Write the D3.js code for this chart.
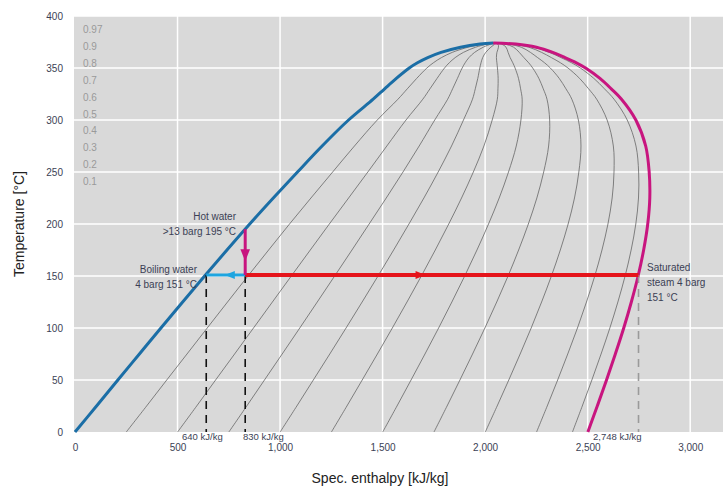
<!DOCTYPE html>
<html>
<head>
<meta charset="utf-8">
<script src="https://cdn.jsdelivr.net/npm/d3@7"></script>
<style>
  body { margin: 0; background: #fff; }
  svg { font-family: "Liberation Sans", Arial, sans-serif; }
</style>
</head>
<body>
<svg id="chart" width="723" height="488"></svg>
<script>
// saturation dome
var tempC   = [0, 25, 50, 75, 100, 125, 150, 175, 200, 225, 250, 275, 300, 320, 330, 340, 350, 355, 360, 365, 370, 373, 374];
var hLiquid = [0, 105, 209, 314, 419, 525, 632, 741, 852, 967, 1085, 1205, 1334, 1454, 1510, 1567, 1630, 1670, 1720, 1785, 1880, 1975, 2040];
var hVapor  = [2501, 2547, 2592, 2635, 2676, 2713, 2746, 2773, 2793, 2803, 2800, 2783, 2735, 2665, 2615, 2560, 2490, 2445, 2390, 2330, 2250, 2150, 2040];
var qualities = [0.1, 0.2, 0.3, 0.4, 0.5, 0.6, 0.7, 0.8, 0.9, 0.97];
var qualityLabels = ["0.97", "0.9", "0.8", "0.7", "0.6", "0.5", "0.4", "0.3", "0.2", "0.1"];
var xTicks = [0, 500, 1000, 1500, 2000, 2500, 3000];
var yTicks = [0, 50, 100, 150, 200, 250, 300, 350, 400];

// process points
var hotWater = { h: 830, t: 195 };
var boiling = { h: 640, t: 151 };
var steam = { h: 2748, t: 151 };

var svg = d3.select("#chart");
var margin = { top: 16, right: 0, bottom: 56, left: 75 };
var width = +svg.attr("width") - margin.left - margin.right;
var height = +svg.attr("height") - margin.top - margin.bottom;

var x = d3.scaleLinear().domain([0, 3160]).range([0, width]);
var y = d3.scaleLinear().domain([0, 400]).range([height, 0]);

var g = svg.append("g")
  .attr("transform", "translate(" + margin.left + "," + margin.top + ")");

g.append("rect")
  .attr("x", -1).attr("y", 0)
  .attr("width", width + 1).attr("height", height)
  .attr("fill", "#d9d9d9");

// grid
g.selectAll(".hgrid").data(yTicks.filter(d => d > 0)).enter()
  .append("line")
  .attr("x1", -1).attr("x2", width)
  .attr("y1", d => y(d)).attr("y2", d => y(d))
  .attr("stroke", "#fff").attr("stroke-width", 1.5);
g.selectAll(".vgrid").data(xTicks.filter(d => d > 0)).enter()
  .append("line")
  .attr("x1", d => x(d)).attr("x2", d => x(d))
  .attr("y1", 0).attr("y2", height)
  .attr("stroke", "#fff").attr("stroke-width", 1.5);

// axes (labels only)
var yAxis = g.append("g").call(d3.axisLeft(y).tickValues(yTicks).tickSize(0).tickPadding(12));
yAxis.select(".domain").remove();
yAxis.selectAll("text").attr("fill", "#3b3f55").attr("font-size", 10);

var xAxis = g.append("g").attr("transform", "translate(0," + height + ")")
  .call(d3.axisBottom(x).tickValues(xTicks).tickSize(0).tickPadding(12).tickFormat(d3.format(",")));
xAxis.select(".domain").remove();
xAxis.selectAll("text").attr("fill", "#3b3f55").attr("font-size", 10);

// quality lines: h = h' + x (h'' - h')
var line = d3.line().curve(d3.curveCatmullRom);
qualities.forEach(function (q) {
  var pts = tempC.map((t, i) => [x(hLiquid[i] + q * (hVapor[i] - hLiquid[i])), y(t)]);
  g.append("path")
    .attr("d", line(pts))
    .attr("fill", "none")
    .attr("stroke", "#666")
    .attr("stroke-width", 0.8);
});

// saturated liquid and vapour lines
g.append("path")
  .attr("d", line(tempC.map((t, i) => [x(hLiquid[i]), y(t)])))
  .attr("fill", "none").attr("stroke", "#1b6ea6").attr("stroke-width", 3);
g.append("path")
  .attr("d", line(tempC.map((t, i) => [x(hVapor[i]), y(t)])))
  .attr("fill", "none").attr("stroke", "#c8157f").attr("stroke-width", 3);

// quality labels
g.selectAll(".qlab").data(qualityLabels).enter()
  .append("text")
  .attr("x", 8)
  .attr("y", (d, i) => 17 + i * 16.9)
  .attr("fill", "#9a9a9a")
  .attr("font-size", 10)
  .text(d => d);

// dashed verticals
function dashed(h, color) {
  g.append("line")
    .attr("x1", x(h)).attr("x2", x(h))
    .attr("y1", y(151)).attr("y2", height)
    .attr("stroke", color).attr("stroke-width", 1.6)
    .attr("stroke-dasharray", "8,6");
}
dashed(boiling.h, "#111");
dashed(hotWater.h, "#111");
dashed(steam.h, "#9a9a9a");

// arrows
function arrowHead(cx, cy, dir, color, s) {
  var p;
  if (dir === "right") p = [[cx + s, cy], [cx - s, cy - s * 0.8], [cx - s, cy + s * 0.8]];
  if (dir === "left") p = [[cx - s, cy], [cx + s, cy - s * 0.8], [cx + s, cy + s * 0.8]];
  if (dir === "down") p = [[cx, cy + s], [cx - s * 0.8, cy - s], [cx + s * 0.8, cy - s]];
  g.append("path").attr("d", "M" + p.join("L") + "Z").attr("fill", color);
}

g.append("line")
  .attr("x1", x(hotWater.h)).attr("x2", x(steam.h))
  .attr("y1", y(151)).attr("y2", y(151))
  .attr("stroke", "#e5141b").attr("stroke-width", 4);
arrowHead(x(1685), y(151), "right", "#e5141b", 5);

g.append("line")
  .attr("x1", x(hotWater.h)).attr("x2", x(boiling.h))
  .attr("y1", y(151)).attr("y2", y(151))
  .attr("stroke", "#1ea5e0").attr("stroke-width", 3);
arrowHead(x(755), y(151), "left", "#1ea5e0", 5);

g.append("line")
  .attr("x1", x(hotWater.h)).attr("x2", x(hotWater.h))
  .attr("y1", y(hotWater.t)).attr("y2", y(151))
  .attr("stroke", "#c8157f").attr("stroke-width", 3);
arrowHead(x(hotWater.h), y(170), "down", "#c8157f", 6);

// annotations
function label(lines, px, py, anchor, size) {
  var t = g.append("text")
    .attr("text-anchor", anchor)
    .attr("fill", "#3b3f55")
    .attr("font-size", size || 10);
  lines.forEach(function (s, i) {
    t.append("tspan").attr("x", px).attr("y", py + i * 15).text(s);
  });
}
label(["Hot water", ">13 barg 195 °C"], 161, 204, "end");
label(["Boiling water", "4 barg 151 °C"], 122, 257, "end");
label(["Saturated", "steam 4 barg", "151 °C"], 572, 255, "start");
label(["640 kJ/kg"], 107, height + 8, "start", 9.5);
label(["830 kJ/kg"], 168, height + 8, "start", 9.5);
label(["2,748 kJ/kg"], 518, height + 8, "start", 9.5);

// axis titles
svg.append("text")
  .attr("transform", "translate(24," + (margin.top + height / 2) + ") rotate(-90)")
  .attr("text-anchor", "middle")
  .attr("fill", "#222").attr("font-size", 14)
  .text("Temperature [°C]");
svg.append("text")
  .attr("x", 380).attr("y", 483)
  .attr("text-anchor", "middle")
  .attr("fill", "#222").attr("font-size", 14)
  .text("Spec. enthalpy [kJ/kg]");
</script>
</body>
</html>
